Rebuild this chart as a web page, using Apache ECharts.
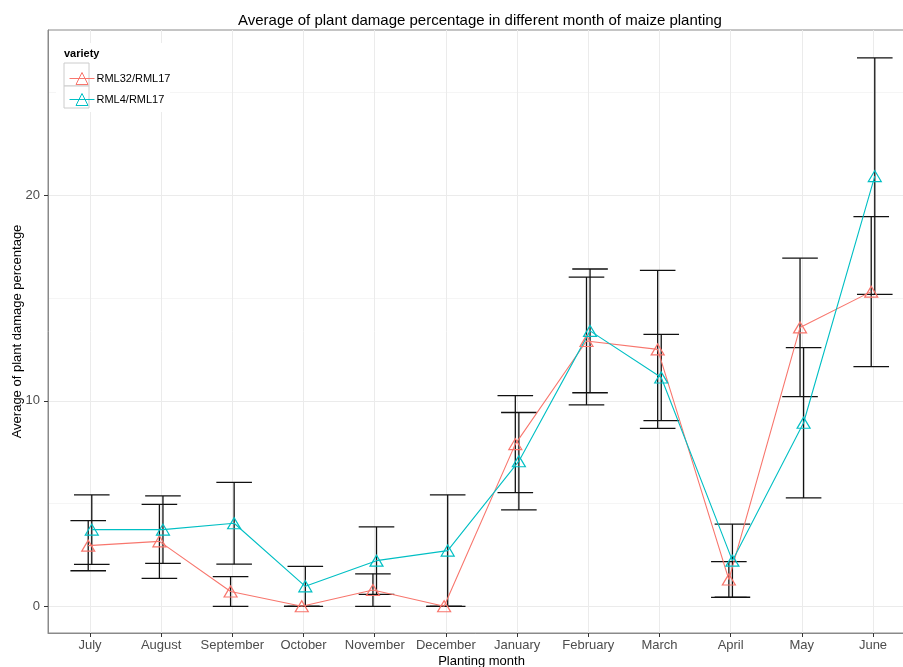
<!DOCTYPE html>
<html>
<head>
<meta charset="utf-8">
<script src="https://cdn.jsdelivr.net/npm/echarts@6/dist/echarts.min.js"></script>
<style>
  html, body { margin: 0; padding: 0; background: #fff; }
  #chart { width: 903px; height: 667px; }
</style>
</head>
<body>
<div id="chart"></div>
<script>
// Planting months (categories along x)
const months = ['July', 'August', 'September', 'October', 'November', 'December',
                'January', 'February', 'March', 'April', 'May', 'June'];

// Variety names
const varieties = ['RML32/RML17', 'RML4/RML17'];

// Mean plant damage (%) per month
const meanRML32 = [2.95, 3.16, 0.72, 0.00, 0.79, 0.00, 7.89, 12.91, 12.50, 1.30, 13.57, 15.31];
const meanRML4  = [3.73, 3.73, 4.04, 0.97, 2.22, 2.71, 7.06, 13.40, 11.13, 2.22, 8.93, 20.93];

// Error bar half-widths
const errRML32 = [1.22, 1.80, 0.72, 0.00, 0.79, 0.00, 2.36, 3.11, 3.84, 0.87, 3.37, 3.65];
const errRML4  = [1.69, 1.64, 1.99, 0.97, 1.64, 2.71, 2.37, 3.01, 2.10, 1.78, 3.66, 5.75];

// Axis ticks
const yMajorTicks = [0, 10, 20];
const yMinorTicks = [5, 15, 25];

const colors = ['#F8766D', '#00BFC4'];
const dodge = 0.025;       // small horizontal dodge between varieties
const capHalf = 0.25;      // error bar cap half-width (x units)

function pointData(means, shift) {
  return means.map((m, i) => [i + shift, m]);
}
function errData(means, errs, shift) {
  return means.map((m, i) => [i + shift, m - errs[i], m + errs[i]]);
}

function renderErrorBar(params, api) {
  const x = api.value(0);
  const lo = api.coord([x, api.value(1)]);
  const hi = api.coord([x, api.value(2)]);
  const left = api.coord([x - capHalf, api.value(1)])[0];
  const right = api.coord([x + capHalf, api.value(1)])[0];
  const style = { stroke: '#111', lineWidth: 1.3, fill: null };
  return {
    type: 'group',
    children: [
      { type: 'line', shape: { x1: lo[0], y1: lo[1], x2: hi[0], y2: hi[1] }, style },
      { type: 'line', shape: { x1: left, y1: hi[1], x2: right, y2: hi[1] }, style },
      { type: 'line', shape: { x1: left, y1: lo[1], x2: right, y2: lo[1] }, style }
    ]
  };
}

const means = [meanRML32, meanRML4];
const errs = [errRML32, errRML4];
const shifts = [-dodge, dodge];

const series = [];
varieties.forEach((name, k) => {
  series.push({
    name: name + ' err',
    type: 'custom',
    renderItem: renderErrorBar,
    data: errData(means[k], errs[k], shifts[k]),
    encode: { x: 0, y: [1, 2] },
    z: 2,
    silent: true
  });
});
varieties.forEach((name, k) => {
  series.push({
    name: name,
    type: 'line',
    data: pointData(means[k], shifts[k]),
    symbol: 'triangle',
    symbolSize: [13, 11],
    showAllSymbol: true,
    lineStyle: { color: colors[k], width: 1.1 },
    itemStyle: { color: 'rgba(255,255,255,0)', borderColor: colors[k], borderWidth: 1.2 },
    z: 3,
    animation: false
  });
});

const chart = echarts.init(document.getElementById('chart'), null, { renderer: 'canvas' });
chart.setOption({
  animation: false,
  backgroundColor: '#fff',
  title: {
    text: 'Average of plant damage percentage in different month of maize planting',
    left: 233, top: 8,
    textStyle: { fontFamily: 'Liberation Sans', fontSize: 15, fontWeight: 'normal', color: '#000' }
  },
  grid: {
    left: 48, top: 30, width: 867, height: 603,
    outerBoundsMode: 'none',
    containLabel: false,
    show: true, borderColor: '#8a8a8a', borderWidth: 1, backgroundColor: '#fff'
  },
  xAxis: {
    type: 'value',
    min: -0.59, max: 11.59,
    name: 'Planting month',
    nameLocation: 'middle',
    nameGap: 22,
    nameMoveOverlap: false,
    nameTextStyle: { fontFamily: 'Liberation Sans', fontSize: 13, color: '#000' },
    axisLine: { show: true, onZero: false, lineStyle: { color: '#8a8a8a', width: 1 } },
    axisTick: { show: true, length: 4, customValues: months.map((_, i) => i), lineStyle: { color: '#333' } },
    axisLabel: {
      customValues: months.map((_, i) => i),
      formatter: v => months[Math.round(v)],
      fontFamily: 'Liberation Sans', fontSize: 13, color: '#4d4d4d', margin: 6
    },
    splitLine: { show: true, lineStyle: { color: '#ebebeb', width: 1 } }
  },
  yAxis: [{
    type: 'value',
    min: -1.30, max: 28.04,
    name: 'Average of plant damage percentage',
    nameLocation: 'middle',
    nameRotate: 90,
    nameGap: 24,
    nameMoveOverlap: false,
    nameTextStyle: { fontFamily: 'Liberation Sans', fontSize: 13, color: '#000' },
    axisLine: { show: true, onZero: false, lineStyle: { color: '#8a8a8a', width: 1 } },
    axisTick: { show: true, length: 4, customValues: yMajorTicks, lineStyle: { color: '#333' } },
    axisLabel: {
      customValues: yMajorTicks,
      fontFamily: 'Liberation Sans', fontSize: 13, color: '#4d4d4d', margin: 8
    },
    splitLine: { show: true, lineStyle: { color: '#ebebeb', width: 1 } }
  }, {
    type: 'value',
    min: -1.30, max: 28.04,
    position: 'left',
    axisLine: { show: false, onZero: false },
    axisTick: { show: false, customValues: yMinorTicks },
    axisLabel: { show: false, customValues: yMinorTicks },
    splitLine: { show: true, lineStyle: { color: '#f5f5f5', width: 1 } }
  }],
  legend: {
    data: varieties,
    orient: 'vertical',
    left: 64, top: 67,
    itemWidth: 25, itemHeight: 15, itemGap: 8,
    lineStyle: { width: 1 },
    itemStyle: { borderWidth: 1 },
    textStyle: { fontFamily: 'Liberation Sans', fontSize: 11, color: '#000', padding: [0, 0, 0, -3] }
  },
  graphic: [
    { type: 'rect', shape: { x: 56, y: 43, width: 114, height: 69 }, style: { fill: '#fff' }, z: 1, silent: true },
    { type: 'rect', shape: { x: 64, y: 63, width: 25, height: 23 }, style: { fill: '#fff', stroke: '#cccccc', lineWidth: 1 }, z: 1, silent: true },
    { type: 'rect', shape: { x: 64, y: 86, width: 25, height: 22 }, style: { fill: '#fff', stroke: '#cccccc', lineWidth: 1 }, z: 1, silent: true },
    { type: 'text', x: 64, y: 54, style: { text: 'variety', fontFamily: 'Liberation Sans', fontSize: 11, fontWeight: 'bold', fill: '#000', verticalAlign: 'middle' }, z: 5, silent: true }
  ],
  series: series
});
</script>
</body>
</html>
